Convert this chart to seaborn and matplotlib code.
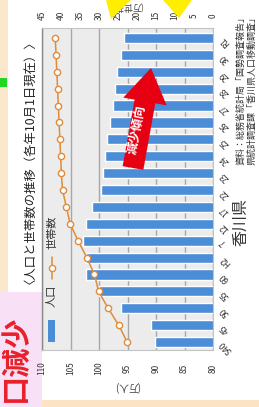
import numpy as np
import pandas as pd
import matplotlib
matplotlib.use("Agg")
import matplotlib.pyplot as plt
import seaborn as sns
from matplotlib.transforms import Affine2D
from matplotlib.patches import Rectangle, FancyArrow, Polygon
from matplotlib.lines import Line2D

# ---------------- data ----------------
categories = ["S40", "45", "50", "55", "60", "H2", "7", "12", "17", "22",
              "23", "24", "25", "26", "27", "28", "29", "30", "R1"]
population = [90.1, 90.8, 96.1, 100.0, 102.3, 102.3, 102.8, 102.3, 101.2, 99.7,
              99.3, 99.0, 98.6, 98.1, 97.6, 97.2, 96.8, 96.2, 95.6]      # 万人
households = [22.6, 24.8, 27.6, 30.1, 31.2, 33.2, 35.5, 37.6, 38.6, 39.6,
              39.9, 40.1, 40.3, 40.5, 40.7, 40.9, 41.1, 41.3, 41.5]      # 万世帯
pop_ticks = [110, 105, 100, 95, 90, 85, 80]
hh_ticks = [45, 40, 35, 30, 25, 20, 15, 10, 5, 0]

title_text = "〈人口と世帯数の推移（各年10月1日現在）〉"
legend_pop = "人口"
legend_hh = "世帯数"
unit_pop = "(万人)"
unit_hh = "(万世帯)"
source_1 = "資料：総務省統計局「国勢調査報告」"
source_2 = "県統計調査課「香川県人口移動調査」"
pref_text = "香川県"
arrow_text = "減少傾向"
headline_text = "口減少"

BAR = "#4b8dd6"
LINE = "#e08c3a"

sns.set_theme(style="white")
plt.rcParams['font.family'] = ['Noto Sans CJK JP', 'DejaVu Sans']

W, H = 259, 407
fig = plt.figure(figsize=(W / 100, H / 100), dpi=100)
fig.patch.set_facecolor("white")
# pixel coordinates (x right, y down) -> figure
pix = Affine2D().scale(1 / W, -1 / H).translate(0, 1) + fig.transFigure

# background decorations of the photographed page
fig.add_artist(Rectangle((0, 0), 8, 292, transform=pix, color="#fbe7cc", lw=0, zorder=0))
fig.add_artist(Rectangle((0, 292), 42, 115, transform=pix, color="#f8e0f6", lw=0, zorder=0))
fig.add_artist(Rectangle((42, 400), 217, 7, transform=pix, color="#fbe3c4", lw=0, zorder=0))
fig.add_artist(Rectangle((0, 78), 7, 9, transform=pix, color="#22d622", lw=0, zorder=1))
fig.text(15, 358, headline_text, transform=pix, rotation=90, ha="center", va="center",
         fontsize=21, color="#e8202a", fontweight="bold", zorder=1)

# ---------------- main axes ----------------
L, R, T, B = 42, 213, 28, 350
ax = fig.add_axes([L / W, 1 - B / H, (R - L) / W, (B - T) / H])
ax.set_facecolor("#ececec")

df = pd.DataFrame({"pos": np.arange(len(categories)), "pop": population,
                   "hh": households, "cat": categories})

sns.barplot(data=df, x="pop", y="pos", orient="h", native_scale=True,
            width=0.6, color=BAR, saturation=1, errorbar=None, ax=ax, zorder=2)

ax.set_xlim(110, 80)
ax.set_xticks(pop_ticks)
ax.set_xticklabels([str(t) for t in pop_ticks], rotation=90, fontsize=6, color="#333333")
for t in ax.get_xticklabels():
    t.set_va("center")
ax.tick_params(axis="x", length=0, pad=13)
ax.xaxis.grid(True, color="#a8a8a8", lw=1)
ax.yaxis.grid(False)
ax.set_axisbelow(True)

ax.yaxis.tick_right()
ax.set_yticks(range(len(categories)))
ax.set_yticklabels(categories, rotation=135, ha="right", va="center",
                   rotation_mode="anchor", fontsize=6, color="#333333")
ax.tick_params(axis="y", length=0, pad=6)
ax.set_xlabel("")
ax.set_ylabel("")
for s in ["top", "bottom", "right"]:
    ax.spines[s].set_color("#c4c4c4")
    ax.spines[s].set_linewidth(0.8)
ax.spines["left"].set_color("#8a8a8a")
ax.spines["left"].set_linewidth(1)

# ---------------- household line (twin axis) ----------------
ax2 = ax.twiny()
sns.lineplot(data=df, x="hh", y="pos", ax=ax2, sort=False, orient="y",
             errorbar=None, color=LINE, lw=1.1, marker="o", markersize=4.5,
             markerfacecolor="white", markeredgecolor=LINE, markeredgewidth=1)
ax2.set_xlim(45, 0)
ax2.set_xticks(hh_ticks)
ax2.set_xticklabels([str(t) for t in hh_ticks], rotation=90, fontsize=6, color="#333333")
for t in ax2.get_xticklabels():
    t.set_va("center")
ax2.tick_params(axis="x", length=0, pad=9)
ax2.set_xlabel("")
ax2.set_ylabel("")
for s in ax2.spines.values():
    s.set_visible(False)
ax.set_ylim(-0.47, len(categories) - 1 + 0.59)

# ---------------- legend ----------------
fig.add_artist(Rectangle((48, 320), 7, 22, transform=pix, color=BAR, lw=0, zorder=5))
fig.text(52, 296, legend_pop, transform=pix, rotation=90, ha="center", va="center",
         fontsize=8, color="#333333", zorder=5)
fig.add_artist(Line2D([52, 52], [257, 279], transform=pix, color=LINE, lw=1.1, zorder=5))
fig.add_artist(Line2D([52], [268], transform=pix, color=LINE, marker="o", markersize=4.5,
                      markerfacecolor="white", markeredgecolor=LINE, markeredgewidth=1, zorder=6))
fig.text(52, 232, legend_hh, transform=pix, rotation=90, ha="center", va="center",
         fontsize=8, color="#333333", zorder=5)

# ---------------- texts ----------------
fig.text(25, 156, title_text, transform=pix, rotation=90, ha="center", va="center",
         fontsize=8.9, color="#222222")
fig.text(127, 386, unit_pop, transform=pix, rotation=180, ha="center", va="center",
         fontsize=7, color="#444444")
fig.text(127, 7, unit_hh, transform=pix, rotation=180, ha="center", va="center",
         fontsize=6.5, color="#444444")
fig.text(241, 12, source_1, transform=pix, rotation=90, ha="center", va="top",
         fontsize=6.5, color="#333333")
fig.text(252, 12, source_2, transform=pix, rotation=90, ha="center", va="top",
         fontsize=6.5, color="#333333")
fig.text(241, 222, pref_text, transform=pix, rotation=90, ha="center", va="center",
         fontsize=11.5, color="#333333")

# ---------------- arrow ----------------
fig.add_artist(FancyArrow(133, 168, 18, -100, width=21, head_width=44, head_length=34,
                          length_includes_head=True, transform=pix, color="#e60012",
                          lw=0, zorder=8))
fig.text(137, 130, arrow_text, transform=pix, rotation=79, ha="center", va="center",
         fontsize=9, color="white", fontweight="bold", zorder=9)

# yellow shapes at the top edge
fig.add_artist(Polygon([(106, 0), (131, 0), (111, 19)], closed=True, transform=pix,
                       color="#ffee00", lw=0, zorder=10))
fig.add_artist(Polygon([(163, 0), (192, 0), (179, 18)], closed=True, transform=pix,
                       color="#ffee00", lw=0, zorder=10))

fig.savefig("out.png", dpi=100, facecolor=fig.get_facecolor())
